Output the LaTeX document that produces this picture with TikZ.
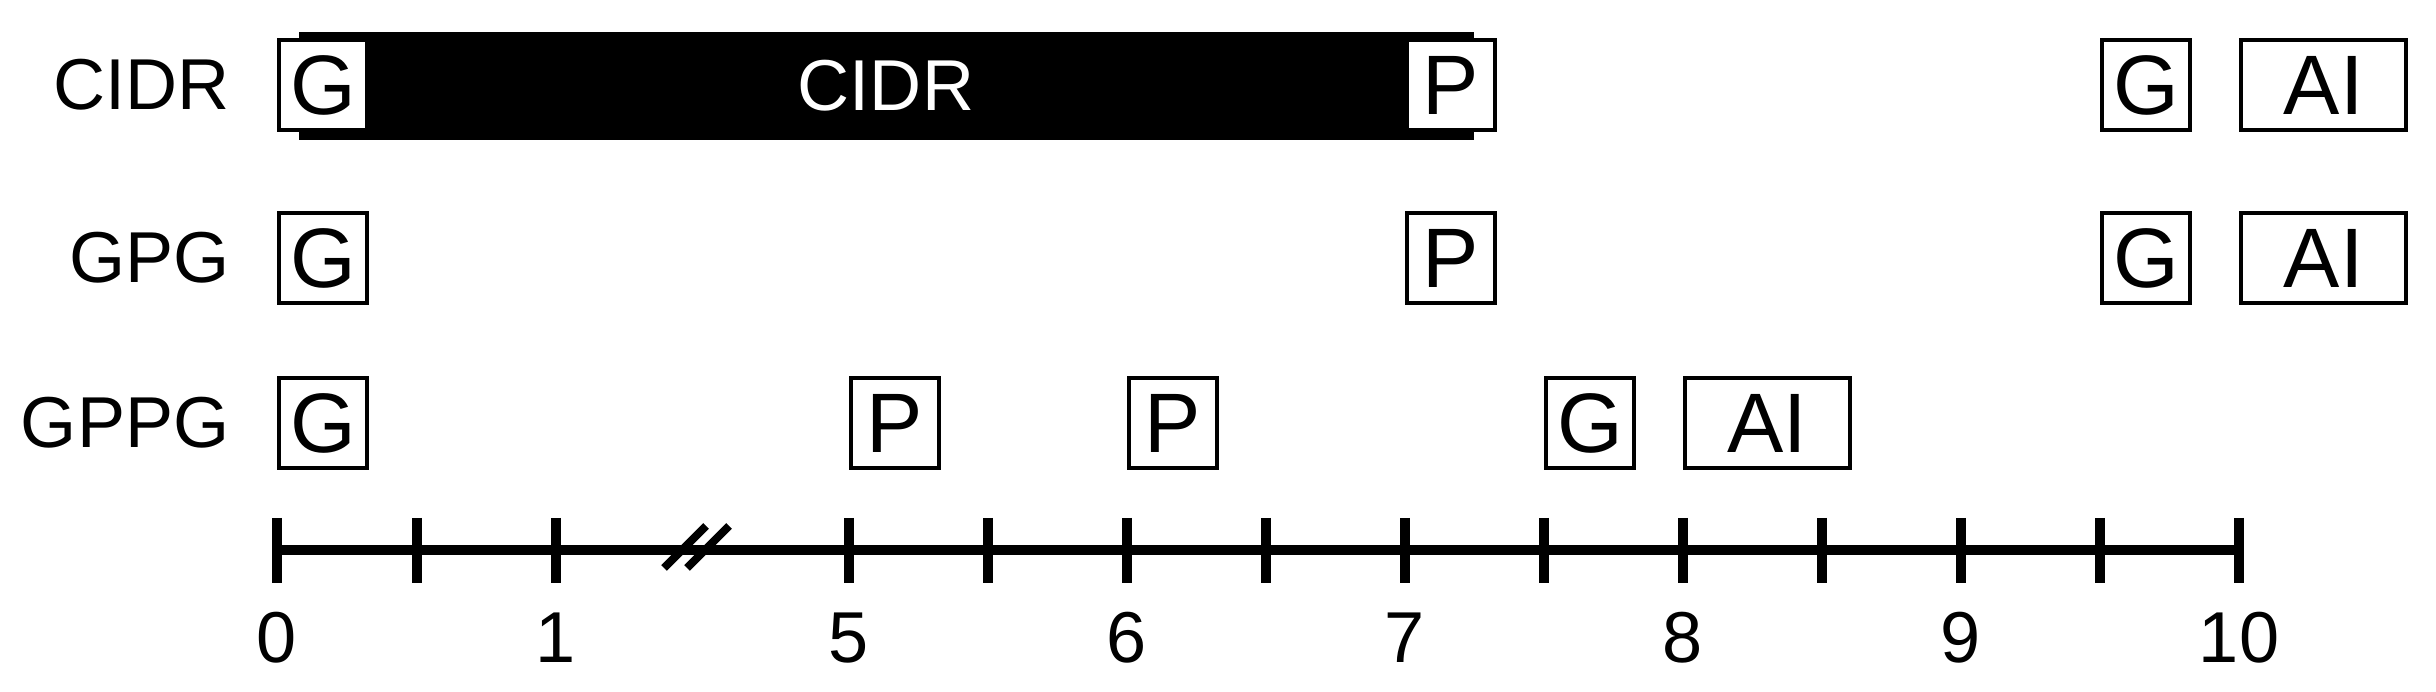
\documentclass[tikz,border=0pt]{standalone}
\usepackage{fontspec}
\setmainfont{Liberation Sans}
\usepackage{tikz}

\begin{document}
\begin{tikzpicture}[x=0.01cm,y=-0.01cm,
        seg/.style={draw,line width=1.14pt,fill=white,inner sep=0pt,anchor=west,
                minimum width=0.88cm,minimum height=0.9cm,font=\fontsize{24}{28}\selectfont},
        wideseg/.style={seg,minimum width=1.65cm},
        rowlab/.style={anchor=east,inner sep=0pt,font=\fontsize{20.5}{24}\selectfont},
        numlab/.style={inner sep=0pt,font=\fontsize{20.5}{24}\selectfont}]
        \useasboundingbox (0,0) rectangle (2436,692);
        \fill (299,32) rectangle (1474,140);
        \node[numlab,white] (cidrtxt) at (886,86) {CIDR};
        \node[rowlab] (lcidr) at (230,85) {CIDR};
        \node[seg] (cG1) at (277,85) {G};
        \node[seg] (cP) at (1405,85) {P};
        \node[seg] (cG2) at (2100,85) {G};
        \node[wideseg] (cAI) at (2239,85) {AI};
        \node[rowlab] (lgpg) at (230,258) {GPG};
        \node[seg] (gG1) at (277,258) {G};
        \node[seg] (gP) at (1405,258) {P};
        \node[seg] (gG2) at (2100,258) {G};
        \node[wideseg] (gAI) at (2239,258) {AI};
        \node[rowlab] (lgppg) at (230,423) {GPPG};
        \node[seg] (pG1) at (277,423) {G};
        \node[seg] (pP1) at (849,423) {P};
        \node[seg] (pP2) at (1127,423) {P};
        \node[seg] (pG2) at (1544,423) {G};
        \node[wideseg] (pAI) at (1683,423) {AI};
        \coordinate (a0) at (277,550);
        \coordinate (a10) at (2239,550);
        \draw[line width=2.85pt] (a0) -- (a10);
        \foreach \x in {277,417,556,849,988,1127,1266,1405,1544,1683,1822,1961,2100,2239}
                \draw[line width=3.1pt] (\x,518) -- (\x,583);
        \draw[line width=2.3pt] (664,568) -- (706,526);
        \draw[line width=2.3pt] (687,568) -- (729,526);
        \foreach \x/\t in {277/0,556/1,849/5,1127/6,1405/7,1683/8,1961/9,2239/10}
                \node[numlab] (n\t) at (\x,638) {\t};
\end{tikzpicture}
\end{document}
